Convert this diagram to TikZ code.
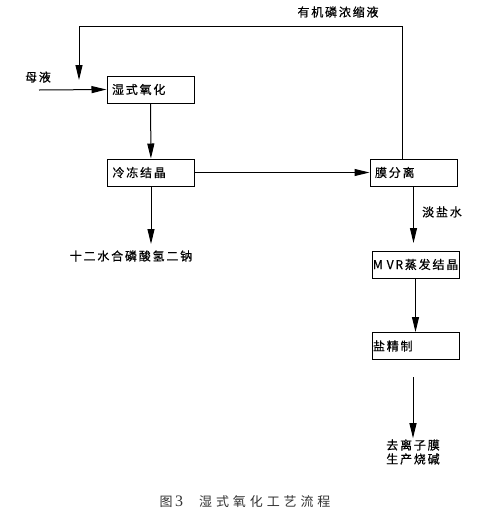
\documentclass[tikz,border=0pt]{standalone}
\usepackage{fontspec}
\setmainfont{Liberation Serif}
\newfontfamily\cjk{Noto Sans CJK SC}[LetterSpace=15, FakeBold=0.6]
\newfontfamily\cjkcap{Noto Sans CJK SC}[LetterSpace=30]
\usetikzlibrary{arrows.meta, positioning}

\begin{document}
\begin{tikzpicture}[x=1pt, y=-1pt,
    box/.style={draw, line width=1pt, minimum height=27pt, text width=77pt,
      inner xsep=5pt, align=left, font=\cjk\fontsize{12}{14}\selectfont},
    flow/.style={line width=1pt, -{Triangle[length=15pt,width=7pt]}},
    lbl/.style={font=\cjk\fontsize{12}{14}\selectfont, inner sep=1pt}]
      \useasboundingbox (0,0) rectangle (486,523);

      % Left column: wet oxidation, freezing
      \node[box] (wet) at (150.5,89.5) {湿式氧化};
      \node[box] (freeze) at (151,172.5) {冷冻结晶};
      \node[lbl] (feed) at (38,77) {母液};
      \coordinate (feedIn) at (39,90);
      \draw[flow] (feedIn) -- (wet.west);
      \draw[flow] (wet) -- (freeze);
      \node[lbl] (hydrate) at (131,256) {十二水合磷酸氢二钠};
      \coordinate (hydrateIn) at (151,244);
      \draw[flow] (freeze.south) -- (hydrateIn);

      % Right column: membrane, MVR, refining
      \node[box] (membrane) at (413.5,172.5) {膜分离};
      \draw[flow] (freeze.east) -- (membrane.west);
      \node[box, text width=85pt, inner xsep=1pt] (mvr) at (415.5,264.5) {M~VR蒸发结晶};
      \node[box, text width=85pt, inner xsep=1pt] (salt) at (415.5,346) {盐精制};
      \coordinate (brineEnd) at (413.5,243);
      \draw[flow] (membrane.south) -- (brineEnd);
      \node[lbl] (brine) at (442,212) {淡盐水};
      \draw[flow] (mvr) -- (salt);
      \node[lbl, align=center] (caustic) at (413,452) {去离子膜\\生产烧碱};
      \coordinate (saltOut) at (413,377);
      \draw[flow] (saltOut) -- (caustic.north);

      % Recycle loop back to wet oxidation
      \coordinate (loopR) at (402,26);
      \coordinate (loopL) at (79,26);
      \coordinate (loopEnd) at (79,80);
      \draw[flow] (membrane.north -| loopR) -- (loopR) -- (loopL) -- (loopEnd);
      \node[lbl] (recycle) at (338,12) {有机磷浓缩液};

      \node[font=\cjkcap\fontsize{13}{15}\selectfont, text=black!80] (caption) at (245,502)
        {图{\rmfamily\fontsize{16}{18}\selectfont\,3}\hspace{16pt}湿式氧化工艺流程};
\end{tikzpicture}
\end{document}
